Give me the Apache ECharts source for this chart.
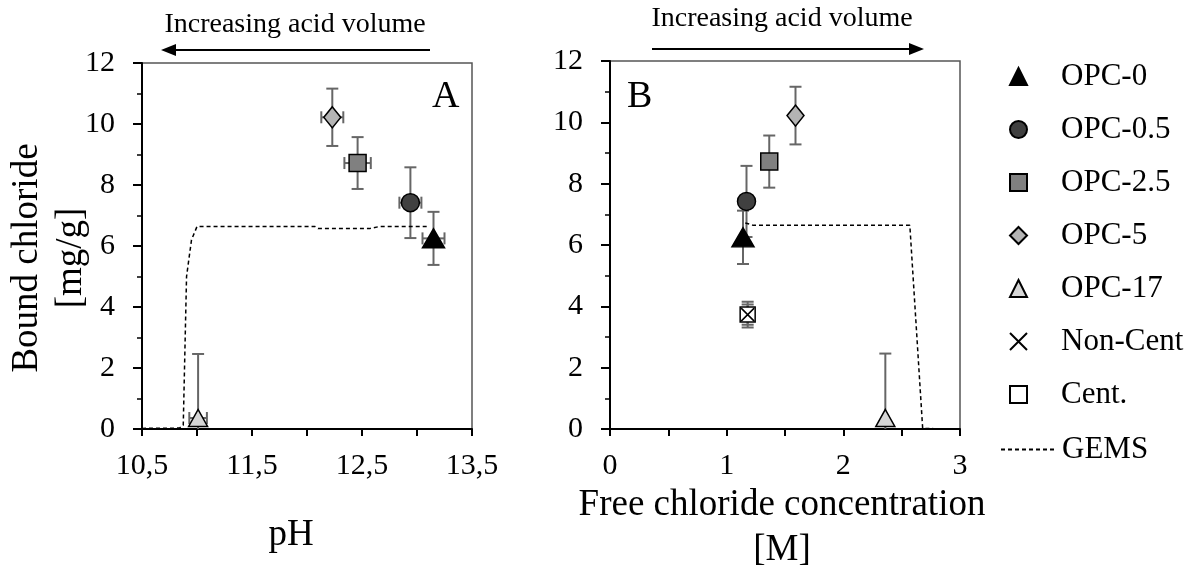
<!DOCTYPE html>
<html>
<head>
<meta charset="utf-8">
<script src="https://cdn.jsdelivr.net/npm/echarts@6/dist/echarts.min.js"></script>
<style>
  html, body { margin: 0; padding: 0; background: #fff; }
  #chart { width: 1193px; height: 572px; }
</style>
</head>
<body>
<div id="chart"></div>
<script>
// Samples (same order in every array)
const sampleNames = ['OPC-0', 'OPC-0.5', 'OPC-2.5', 'OPC-5', 'OPC-17'];
const pHValues = [13.15, 12.94, 12.46, 12.23, 11.01];
const pHErr = [0.1, 0.1, 0.12, 0.1, 0.08];
const freeChloride = [1.14, 1.17, 1.365, 1.59, 2.36];
const boundChloride = [6.25, 7.42, 8.72, 10.22, 0.36];
const boundErr = [0.87, 1.16, 0.85, 0.94, 2.1];

// Non-centrifuged / centrifuged reference samples (panel B only)
const extraNames = ['Non-Cent', 'Cent.'];
const extraFree = [1.18, 1.18];
const extraBound = [3.73, 3.73];
const extraErr = [0.42, 0.33];

// GEMS model curves
const gemsPH = [10.5, 10.84, 10.875, 10.905, 10.95, 11.0, 12.07, 12.1, 12.57, 12.66, 13.09];
const gemsBoundA = [0.02, 0.03, 0.12, 5.0, 6.2, 6.64, 6.64, 6.57, 6.57, 6.64, 6.64];
const gemsFree = [1.16, 1.23, 2.57, 2.68, 2.77];
const gemsBoundB = [6.72, 6.64, 6.64, 0.02, 0.02];

const FONT = "'Liberation Serif', 'Times New Roman', serif";

const markerStyles = [
  { symbol: 'triangle', size: [22, 19], fill: '#000000' },
  { symbol: 'circle', size: 18, fill: '#404040' },
  { symbol: 'rect', size: 17, fill: '#808080' },
  { symbol: 'diamond', size: [17, 21], fill: '#b4b4b4' },
  { symbol: 'triangle', size: [19, 17], fill: '#d6d6d6' }
];
const extraStyles = [
  { symbol: 'path://M0,0L10,10M10,0L0,10', size: 13, fill: '#000000' },
  { symbol: 'rect', size: 15, fill: '#ffffff' }
];

function renderErrorBar(params, api) {
  const x = api.value(0), y = api.value(1), ey = api.value(2), ex = api.value(3);
  const style = { stroke: '#666666', lineWidth: 2, fill: null };
  const cap = 6;
  const children = [];
  if (ey > 0) {
    const hi = api.coord([x, y + ey]);
    const lo = api.coord([x, y - ey]);
    children.push({ type: 'line', shape: { x1: hi[0], y1: hi[1], x2: lo[0], y2: lo[1] }, style });
    children.push({ type: 'line', shape: { x1: hi[0] - cap, y1: hi[1], x2: hi[0] + cap, y2: hi[1] }, style });
    children.push({ type: 'line', shape: { x1: lo[0] - cap, y1: lo[1], x2: lo[0] + cap, y2: lo[1] }, style });
  }
  if (ex > 0) {
    const l = api.coord([x - ex, y]);
    const r = api.coord([x + ex, y]);
    children.push({ type: 'line', shape: { x1: l[0], y1: l[1], x2: r[0], y2: r[1] }, style });
    children.push({ type: 'line', shape: { x1: l[0], y1: l[1] - cap, x2: l[0], y2: l[1] + cap }, style });
    children.push({ type: 'line', shape: { x1: r[0], y1: r[1] - cap, x2: r[0], y2: r[1] + cap }, style });
  }
  return { type: 'group', children };
}

function errorSeries(axisIndex, data) {
  return {
    type: 'custom', xAxisIndex: axisIndex, yAxisIndex: axisIndex,
    renderItem: renderErrorBar, data: data, clip: true, z: 1,
    encode: { x: 0, y: 1 }, silent: true
  };
}

function scatterSeries(name, style, axisIndex, data, z) {
  return {
    name: name, type: 'scatter', xAxisIndex: axisIndex, yAxisIndex: axisIndex,
    symbol: style.symbol, symbolSize: style.size, data: data, z: z || 3,
    itemStyle: { color: style.fill, borderColor: '#000000', borderWidth: 1.5, opacity: 1 },
    emphasis: { disabled: true }, silent: true
  };
}

const series = [];
// error bars
series.push(errorSeries(0, sampleNames.map((_, i) => [pHValues[i], boundChloride[i], boundErr[i], pHErr[i]])));
series.push(errorSeries(1, sampleNames.map((_, i) => [freeChloride[i], boundChloride[i], boundErr[i], 0])));
series.push(errorSeries(1, extraNames.map((_, i) => [extraFree[i], extraBound[i], extraErr[i], 0])));

// GEMS curves
const gemsLine = { color: '#000000', width: 1.5, type: [4, 3] };
[[0, gemsPH, gemsBoundA], [1, gemsFree, gemsBoundB]].forEach(([idx, xs, ys]) => {
  series.push({
    name: 'GEMS', type: 'line', xAxisIndex: idx, yAxisIndex: idx, symbol: 'none', z: 2,
    itemStyle: { color: '#000000' }, lineStyle: gemsLine,
    data: xs.map((v, i) => [v, ys[i]]), silent: true
  });
});

// sample markers
sampleNames.forEach((name, i) => {
  series.push(scatterSeries(name, markerStyles[i], 0, [[pHValues[i], boundChloride[i]]]));
  series.push(scatterSeries(name, markerStyles[i], 1, [[freeChloride[i], boundChloride[i]]]));
});
// centrifuged square first, cross drawn on top
series.push(scatterSeries(extraNames[1], extraStyles[1], 1, [[extraFree[1], extraBound[1]]], 3));
series.push(scatterSeries(extraNames[0], extraStyles[0], 1, [[extraFree[0], extraBound[0]]], 4));

const axisLineStyle = { color: '#000000', width: 2 };
const labelStyle = { fontFamily: FONT, fontSize: 30, color: '#000000' };

function yAxis(idx, withName) {
  const ax = {
    gridIndex: idx, type: 'value', min: 0, max: 12, interval: 2,
    axisLine: { show: true, lineStyle: axisLineStyle },
    axisTick: { show: true, length: 9, lineStyle: { color: '#000', width: 2 } },
    minorTick: { show: true, splitNumber: 2, length: 5, lineStyle: { color: '#000', width: 1.5 } },
    splitLine: { show: false }, minorSplitLine: { show: false },
    axisLabel: Object.assign({ margin: 27 }, labelStyle)
  };
  if (withName) {
    ax.name = 'Bound chloride\n[mg/g]';
    ax.nameLocation = 'middle';
    ax.nameRotate = 90;
    ax.nameGap = 49;
    ax.nameMoveOverlap = false;
    ax.nameTextStyle = { fontFamily: FONT, fontSize: 37, lineHeight: 44, color: '#000', align: 'center', padding: [0, 24, 0, 0] };
  }
  return ax;
}

const option = {
  animation: false,
  backgroundColor: '#ffffff',
  grid: [
    { left: 142, right: 721, top: 63, bottom: 143, show: true, borderColor: '#555', borderWidth: 1.5, backgroundColor: 'transparent', outerBoundsMode: 'none' },
    { left: 610, right: 233, top: 61, bottom: 143, show: true, borderColor: '#555', borderWidth: 1.5, backgroundColor: 'transparent', outerBoundsMode: 'none' }
  ],
  xAxis: [
    {
      gridIndex: 0, type: 'value', min: 10.5, max: 13.5, interval: 0.5,
      axisLine: { show: true, onZero: false, lineStyle: axisLineStyle },
      axisTick: { show: true, length: 7, lineStyle: { color: '#000', width: 2 } },
      splitLine: { show: false },
      axisLabel: Object.assign({
        margin: 22,
        formatter: v => (Math.round(v * 2) % 2 === 1 ? v.toFixed(1).replace('.', ',') : '')
      }, labelStyle),
      name: 'pH', nameLocation: 'middle', nameGap: 88, nameMoveOverlap: false,
      nameTextStyle: { fontFamily: FONT, fontSize: 37, color: '#000', padding: [0, 32, 0, 0] }
    },
    {
      gridIndex: 1, type: 'value', min: 0, max: 3, interval: 0.5,
      axisLine: { show: true, onZero: false, lineStyle: axisLineStyle },
      axisTick: { show: true, length: 7, lineStyle: { color: '#000', width: 2 } },
      splitLine: { show: false },
      axisLabel: Object.assign({
        margin: 22,
        formatter: v => (Math.abs(v - Math.round(v)) < 1e-9 ? String(Math.round(v)) : '')
      }, labelStyle),
      name: 'Free chloride concentration\n[M]', nameLocation: 'middle', nameGap: 54, nameMoveOverlap: false,
      nameTextStyle: { fontFamily: FONT, fontSize: 37, lineHeight: 45, color: '#000', padding: [0, 6, 0, 0] }
    }
  ],
  yAxis: [yAxis(0, true), yAxis(1, false)],
  legend: [
    {
      data: sampleNames.concat(extraNames),
      orient: 'vertical', left: 1004, top: 56,
      itemWidth: 17, itemHeight: 17, itemGap: 22,
      selectedMode: false,
      textStyle: { fontFamily: FONT, fontSize: 31, lineHeight: 30, color: '#000', padding: [0, 0, 0, 29] }
    },
    {
      data: ['GEMS'],
      orient: 'vertical', left: 995, top: 429,
      itemWidth: 53, itemHeight: 17,
      selectedMode: false,
      itemStyle: { opacity: 0 },
      textStyle: { fontFamily: FONT, fontSize: 31, lineHeight: 30, color: '#000', padding: [0, 0, 0, 3] }
    }
  ],
  graphic: [
    // panel letters
    { type: 'text', left: 432, top: 78, style: { text: 'A', font: '38px ' + FONT, fill: '#000' } },
    { type: 'text', left: 627, top: 78, style: { text: 'B', font: '38px ' + FONT, fill: '#000' } },
    // acid volume annotations
    { type: 'text', x: 295, y: 25, style: { text: 'Increasing acid volume', font: '28px ' + FONT, fill: '#000', textAlign: 'center', textVerticalAlign: 'middle' } },
    { type: 'line', shape: { x1: 174, y1: 50, x2: 430, y2: 50 }, style: { stroke: '#000', lineWidth: 2 } },
    { type: 'polygon', shape: { points: [[161, 50], [176, 44], [176, 56]] }, style: { fill: '#000' } },
    { type: 'text', x: 782, y: 19, style: { text: 'Increasing acid volume', font: '28px ' + FONT, fill: '#000', textAlign: 'center', textVerticalAlign: 'middle' } },
    { type: 'line', shape: { x1: 652, y1: 49, x2: 911, y2: 49 }, style: { stroke: '#000', lineWidth: 2 } },
    { type: 'polygon', shape: { points: [[924, 49], [909, 43], [909, 55]] }, style: { fill: '#000' } }
  ],
  series: series
};

const chart = echarts.init(document.getElementById('chart'), null, { renderer: 'canvas' });
chart.setOption(option);
</script>
</body>
</html>
